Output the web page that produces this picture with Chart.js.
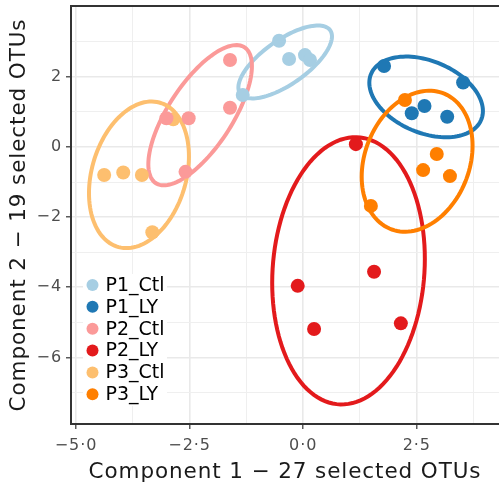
<!DOCTYPE html>
<html>
<head>
<meta charset="utf-8">
<script src="https://cdn.jsdelivr.net/npm/chart.js@4"></script>
<style>
  html, body { margin: 0; padding: 0; background: #fff; }
  canvas { display: block; }
</style>
</head>
<body>
<canvas id="plsda" width="499" height="489"></canvas>
<script>
// sample scores on the first two components, one pair of arrays per group
const groups = ['P1_Ctl', 'P1_LY', 'P2_Ctl', 'P2_LY', 'P3_Ctl', 'P3_LY'];
const groupColors = ['#a6cee3', '#1f78b4', '#fb9a99', '#e31a1c', '#fdbf6f', '#ff7f00'];

const p1CtlX = [-0.53, -0.31, 0.04, 0.15, -1.33];
const p1CtlY = [3.03, 2.51, 2.62, 2.48, 1.48];
const p1LyX  = [1.78, 3.52, 2.67, 2.39, 3.17];
const p1LyY  = [2.31, 1.84, 1.17, 0.96, 0.86];
const p2CtlX = [-1.61, -1.61, -3.01, -2.52, -2.59];
const p2CtlY = [2.48, 1.12, 0.82, 0.82, -0.71];
const p2LyX  = [1.16, -0.12, 1.56, 0.24, 2.15];
const p2LyY  = [0.08, -3.96, -3.56, -5.19, -5.03];
const p3CtlX = [-4.38, -3.96, -3.55, -2.86, -3.32];
const p3CtlY = [-0.80, -0.73, -0.80, 0.79, -2.43];
const p3LyX  = [2.24, 2.94, 2.64, 3.23, 1.49];
const p3LyY  = [1.34, -0.20, -0.66, -0.83, -1.68];

const groupX = [p1CtlX, p1LyX, p2CtlX, p2LyX, p3CtlX, p3LyX];
const groupY = [p1CtlY, p1LyY, p2CtlY, p2LyY, p3CtlY, p3LyY];

// ellipse half-extents along each component and their correlation
const ellipseHalfX = [1.03, 1.25, 1.14, 1.68, 1.10, 1.22];
const ellipseHalfY = [1.04, 1.15, 2.00, 3.81, 2.09, 2.01];
const ellipseRho   = [0.70, -0.35, 0.70, 0.09, 0.25, 0.22];

// axes
const xGridValues = [-5, -3.75, -2.5, -1.25, 0, 1.25, 2.5, 3.75];
const xTickValues = [-5, -2.5, 0, 2.5];
const xTickLabels = ['\u22125\u00b70', '\u22122\u00b75', '0\u00b70', '2\u00b75'];
const yGridValues = [3, 2, 1, 0, -1, -2, -3, -4, -5, -6, -7];
const yTickValues = [2, 0, -2, -4, -6];
const yTickLabels = ['2', '0', '\u22122', '\u22124', '\u22126'];

const xTitle = 'Component 1 \u2212 27 selected OTUs';
const yTitle = 'Component 2 \u2212 19 selected OTUs';

const FONT = "'DejaVu Sans', Verdana, sans-serif";

const mean = arr => arr.reduce((a, b) => a + b, 0) / arr.length;

// axis text is set a little wider than the default spacing
const textSpacing = {
    id: 'textSpacing',
    beforeDraw(chart) { chart.ctx.letterSpacing = '0.9px'; }
};

const ellipsePlugin = {
    id: 'groupEllipses',
    beforeDatasetsDraw(chart) {
        const { ctx, scales: { x, y } } = chart;
        ctx.save();
        ctx.lineWidth = 4;
        groups.forEach((g, i) => {
            const cx = mean(groupX[i]);
            const cy = mean(groupY[i]);
            const r = ellipseRho[i];
            const s = Math.sqrt(1 - r * r);
            ctx.beginPath();
            for (let k = 0; k <= 120; k++) {
                const t = (k / 120) * Math.PI * 2;
                const vx = cx + ellipseHalfX[i] * Math.cos(t);
                const vy = cy + ellipseHalfY[i] * (r * Math.cos(t) + s * Math.sin(t));
                const px = x.getPixelForValue(vx);
                const py = y.getPixelForValue(vy);
                if (k === 0) ctx.moveTo(px, py); else ctx.lineTo(px, py);
            }
            ctx.closePath();
            ctx.strokeStyle = groupColors[i];
            ctx.stroke();
        });
        ctx.restore();
    }
};

const frameAndLegend = {
    id: 'frameAndLegend',
    afterDraw(chart) {
        const { ctx, chartArea: a } = chart;
        ctx.save();
        ctx.letterSpacing = '0px';
        // top edge of the panel
        ctx.strokeStyle = '#333333';
        ctx.lineWidth = 2;
        ctx.beginPath();
        ctx.moveTo(a.left - 1, a.top);
        ctx.lineTo(a.right, a.top);
        ctx.stroke();

        // legend box inside the panel
        ctx.fillStyle = '#ffffff';
        ctx.fillRect(83, 274, 84, 132);
        ctx.font = '19px ' + FONT;
        ctx.textBaseline = 'middle';
        groups.forEach((g, i) => {
            const yy = 285 + i * 21.85;
            ctx.fillStyle = groupColors[i];
            ctx.beginPath();
            ctx.arc(92.5, yy, 6, 0, Math.PI * 2);
            ctx.fill();
            ctx.fillStyle = '#000000';
            ctx.fillText(g, 105.5, yy + 1);
        });
        ctx.restore();
    }
};

const gridColor = (vals) => (c) => vals.includes(c.tick.value) ? '#e9e9e9' : '#efefef';
const gridWidth = (vals) => (c) => vals.includes(c.tick.value) ? 1.6 : 1;
const tickColor = (vals) => (c) => vals.includes(c.tick.value) ? '#333333' : 'rgba(0,0,0,0)';

new Chart(document.getElementById('plsda').getContext('2d'), {
    type: 'scatter',
    data: {
        datasets: groups.map((g, i) => ({
            label: g,
            data: groupX[i].map((v, j) => ({ x: v, y: groupY[i][j] })),
            backgroundColor: groupColors[i],
            borderColor: groupColors[i],
            borderWidth: 0,
            pointRadius: 7,
            pointHoverRadius: 7
        }))
    },
    options: {
        responsive: false,
        animation: false,
        events: [],
        layout: { autoPadding: false, padding: { top: 6, right: 0, bottom: 0, left: 0 } },
        plugins: { legend: { display: false }, tooltip: { enabled: false } },
        scales: {
            x: {
                type: 'linear',
                min: -5.11,
                max: 4.31,
                afterBuildTicks: s => { s.ticks = xGridValues.map(v => ({ value: v })); },
                afterFit: s => {
                    s.height = 65;
                    s.paddingLeft = 0;
                    s.paddingRight = 0;
                },
                grid: {
                    color: gridColor(xTickValues),
                    lineWidth: gridWidth(xTickValues),
                    tickColor: tickColor(xTickValues),
                    tickLength: 5,
                    tickWidth: 1.2
                },
                border: { display: true, color: '#333333', width: 2 },
                ticks: {
                    autoSkip: false,
                    maxRotation: 0,
                    padding: 7,
                    color: '#4d4d4d',
                    font: { family: FONT, size: 16 },
                    callback: v => {
                        const k = xTickValues.indexOf(v);
                        return k < 0 ? '' : xTickLabels[k];
                    }
                },
                title: {
                    display: true,
                    text: xTitle,
                    color: '#1a1a1a',
                    font: { family: FONT, size: 21.5 },
                    padding: { top: 0, bottom: 4 }
                }
            },
            y: {
                type: 'linear',
                min: -7.90,
                max: 4.02,
                afterBuildTicks: s => { s.ticks = yGridValues.map(v => ({ value: v })); },
                afterFit: s => {
                    s.width = 71;
                    s.paddingTop = 0;
                    s.paddingBottom = 0;
                },
                grid: {
                    color: gridColor(yTickValues),
                    lineWidth: gridWidth(yTickValues),
                    tickColor: tickColor(yTickValues),
                    tickLength: 5,
                    tickWidth: 1.2
                },
                border: { display: true, color: '#333333', width: 2 },
                ticks: {
                    autoSkip: false,
                    padding: 4,
                    color: '#4d4d4d',
                    font: { family: FONT, size: 16 },
                    callback: v => {
                        const k = yTickValues.indexOf(v);
                        return k < 0 ? '' : yTickLabels[k];
                    }
                },
                title: {
                    display: true,
                    text: yTitle,
                    color: '#1a1a1a',
                    font: { family: FONT, size: 21.5 },
                    padding: { top: 7, bottom: 0 }
                }
            }
        }
    },
    plugins: [textSpacing, ellipsePlugin, frameAndLegend]
});
</script>
</body>
</html>
